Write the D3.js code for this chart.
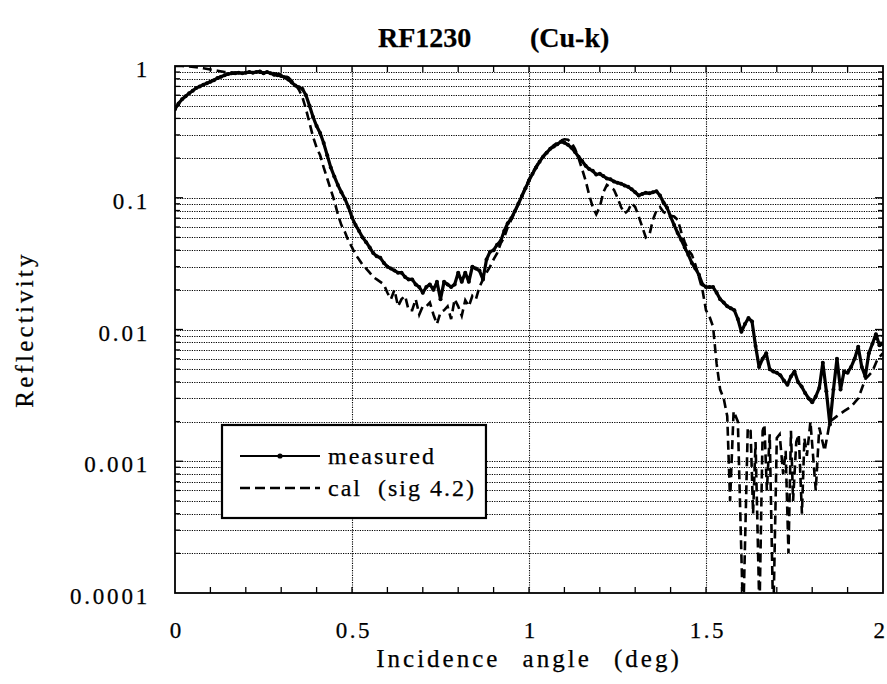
<!DOCTYPE html>
<html>
<head>
<meta charset="utf-8">
<script src="https://cdn.jsdelivr.net/npm/d3@7"></script>
<style>
  body { margin: 0; background: #fff; }
  svg { display: block; }
  text { font-family: "Liberation Serif", "Times New Roman", serif; fill: #000; stroke: #000; stroke-width: 0.25px; }
</style>
</head>
<body>
<svg id="chart" width="887" height="684"></svg>
<script>
// ---- data ----
const titleParts = ["RF1230", "(Cu-k)"];
const xTitle = "Incidence angle (deg)";
const yTitle = "Reflectivity";
const angleTicks = [0, 0.5, 1, 1.5, 2];
const angleTickLabels = ["0", "0.5", "1", "1.5", "2"];
const reflTicks = [1, 0.1, 0.01, 0.001, 0.0001];
const reflTickLabels = ["1", "0.1", "0.01", "0.001", "0.0001"];
const seriesNames = ["measured", "cal  (sig 4.2)"];

// measured reflectivity
const measuredAngle = [
  0.00,0.01,0.02,0.03,0.04,0.05,0.06,0.07,0.08,0.09,0.10,0.11,0.12,0.13,0.14,0.15,0.16,0.17,0.18,0.19,
  0.20,0.21,0.22,0.23,0.24,0.25,0.26,0.27,0.28,0.29,0.30,0.31,0.32,0.33,0.34,0.35,0.36,0.37,0.38,0.39,
  0.40,0.41,0.42,0.43,0.44,0.45,0.46,0.47,0.48,0.49,0.50,0.51,0.52,0.53,0.54,0.55,0.56,0.57,0.58,0.59,
  0.60,0.61,0.62,0.63,0.64,0.65,0.66,0.67,0.68,0.69,0.70,0.71,0.72,0.73,0.74,0.75,0.76,0.77,0.78,0.79,
  0.80,0.81,0.82,0.83,0.84,0.85,0.86,0.87,0.88,0.89,0.90,0.91,0.92,0.93,0.94,0.95,0.96,0.97,0.98,0.99,
  1.00,1.01,1.02,1.03,1.04,1.05,1.06,1.07,1.08,1.09,1.10,1.11,1.12,1.13,1.14,1.15,1.16,1.17,1.18,1.19,
  1.20,1.21,1.22,1.23,1.24,1.25,1.26,1.27,1.28,1.29,1.30,1.31,1.32,1.33,1.34,1.35,1.36,1.37,1.38,1.39,
  1.40,1.41,1.42,1.43,1.44,1.45,1.46,1.47,1.48,1.49,1.50,1.51,1.52,1.53,1.54,1.55,1.56,1.57,1.58,1.59,
  1.60,1.61,1.62,1.63,1.64,1.65,1.66,1.67,1.68,1.69,1.70,1.71,1.72,1.73,1.74,1.75,1.76,1.77,1.78,1.79,
  1.80,1.81,1.82,1.83,1.84,1.85,1.86,1.87,1.88,1.89,1.90,1.91,1.92,1.93,1.94,1.95,1.96,1.97,1.98,1.99,
  2.00
];
const measuredR = [
  0.47,0.52,0.56,0.59,0.62,0.65,0.68,0.70,0.72,0.74,0.76,0.78,0.81,0.83,0.85,0.87,0.88,0.88,0.89,0.88,
  0.89,0.90,0.89,0.90,0.91,0.88,0.90,0.88,0.86,0.85,0.84,0.82,0.79,0.75,0.71,0.69,0.67,0.60,0.50,0.41,
  0.35,0.31,0.26,0.21,0.17,0.145,0.125,0.110,0.098,0.085,0.071,0.062,0.056,0.050,0.046,0.042,0.038,0.036,0.035,0.032,
  0.030,0.029,0.028,0.027,0.027,0.025,0.024,0.024,0.022,0.021,0.019,0.021,0.022,0.020,0.023,0.017,0.023,0.022,0.021,0.022,
  0.027,0.023,0.027,0.023,0.030,0.029,0.028,0.024,0.034,0.039,0.040,0.044,0.047,0.056,0.064,0.070,0.079,0.090,0.103,0.118,
  0.135,0.152,0.170,0.188,0.205,0.220,0.235,0.245,0.255,0.266,0.262,0.252,0.240,0.222,0.205,0.190,0.175,0.165,0.160,0.150,
  0.152,0.146,0.140,0.138,0.133,0.130,0.128,0.124,0.121,0.116,0.110,0.104,0.107,0.109,0.108,0.110,0.112,0.104,0.092,0.084,
  0.072,0.062,0.054,0.048,0.042,0.037,0.032,0.029,0.026,0.022,0.021,0.021,0.021,0.019,0.017,0.016,0.015,0.0145,0.014,0.012,
  0.0096,0.011,0.0122,0.0115,0.0075,0.0052,0.0060,0.0066,0.0050,0.0048,0.0047,0.0045,0.0041,0.0038,0.0044,0.0048,0.0040,0.0037,0.0033,0.0030,
  0.0028,0.0031,0.0036,0.0056,0.0034,0.0019,0.0035,0.0060,0.0035,0.0048,0.0047,0.0052,0.0060,0.0074,0.0052,0.0044,0.0066,0.0078,0.0092,0.0076,
  0.0078
];

// calculated reflectivity (roughness sigma 4.2)
const calAngle = [
  0.00,0.02,0.04,0.06,0.08,0.10,0.12,0.14,0.16,0.18,0.20,0.22,0.24,0.26,0.28,0.30,0.32,0.33,0.34,0.35,
  0.36,0.37,0.38,0.39,0.40,0.41,0.42,0.43,0.44,0.45,0.46,0.47,0.48,0.49,0.50,0.51,0.52,0.53,0.54,0.55,
  0.56,0.57,0.58,0.59,0.60,0.61,0.62,0.63,0.64,0.65,0.66,0.67,0.68,0.69,0.70,0.71,0.72,0.73,0.74,0.75,
  0.76,0.77,0.78,0.79,0.80,0.81,0.82,0.83,0.84,0.85,0.86,0.87,0.88,0.89,0.90,0.91,0.92,0.93,0.94,0.95,
  0.96,0.97,0.98,0.99,1.00,1.01,1.02,1.03,1.04,1.05,1.06,1.07,1.08,1.09,1.10,1.11,1.12,1.13,1.14,1.15,
  1.16,1.17,1.18,1.19,1.20,1.21,1.22,1.23,1.24,1.25,1.26,1.27,1.28,1.29,1.30,1.31,1.32,1.33,1.34,1.35,
  1.36,1.37,1.38,1.39,1.40,1.41,1.42,1.43,1.44,1.45,1.46,1.47,1.48,1.49,1.50,1.51,1.52,1.53,1.54,1.55,
  1.56,1.568,1.578,1.59,1.605,1.618,1.626,1.633,1.64,1.651,1.66,1.665,1.672,1.68,1.69,1.70,1.708,1.718,1.725,1.733,
  1.74,1.746,1.755,1.762,1.771,1.778,1.785,1.795,1.81,1.82,1.835,1.85,1.87,1.89,1.91,1.93,1.95,1.97,1.985,2.00
];
const calR = [
  1.00,1.00,0.99,0.98,0.96,0.94,0.92,0.90,0.89,0.89,0.89,0.89,0.89,0.89,0.88,0.86,0.82,0.77,0.72,0.66,
  0.58,0.47,0.37,0.29,0.24,0.21,0.17,0.14,0.115,0.095,0.075,0.062,0.055,0.047,0.042,0.037,0.034,0.031,0.029,0.027,
  0.025,0.024,0.023,0.022,0.019,0.017,0.020,0.015,0.017,0.018,0.014,0.014,0.017,0.013,0.015,0.015,0.016,0.013,0.011,0.0135,
  0.014,0.015,0.012,0.017,0.015,0.0127,0.0167,0.015,0.018,0.017,0.021,0.024,0.027,0.030,0.034,0.038,0.045,0.050,0.060,0.068,
  0.078,0.090,0.104,0.120,0.138,0.155,0.173,0.190,0.207,0.222,0.237,0.250,0.262,0.272,0.278,0.276,0.262,0.235,0.200,0.165,
  0.135,0.105,0.085,0.075,0.085,0.110,0.125,0.120,0.115,0.100,0.085,0.076,0.080,0.091,0.085,0.072,0.060,0.050,0.052,0.068,
  0.080,0.085,0.078,0.075,0.073,0.072,0.068,0.055,0.046,0.040,0.037,0.031,0.025,0.020,0.014,0.0125,0.0105,0.0055,0.0035,0.0030,
  0.0022,0.0005,0.0024,0.0020,0.00006,0.0018,0.0017,0.0004,0.0014,0.00007,0.0017,0.0019,0.0006,0.0016,0.00006,0.0015,0.0016,0.0008,0.0012,0.0002,
  0.0017,0.0005,0.0014,0.0016,0.0004,0.0015,0.0011,0.0020,0.0006,0.0018,0.0012,0.0020,0.0022,0.0024,0.0026,0.0030,0.0042,0.0048,0.0060,0.0066
];

// ---- layout ----
const svg = d3.select("#chart");
const plotLeft = 175, plotRight = 883, plotTop = 66, plotBottom = 593;

const x = d3.scaleLinear().domain([0, 2]).range([plotLeft, plotRight]);
const y = d3.scaleLog().domain([1e-4, 1]).range([plotBottom, plotTop]);

const isDecade = v => Math.abs(Math.log10(v) - Math.round(Math.log10(v))) < 1e-9;

// dotted grid: every 1..9 multiple of each decade, plus verticals at the labelled angles
const gridValues = [];
[1e-4, 1e-3, 1e-2, 1e-1].forEach(d => { for (let k = 1; k <= 9; k++) gridValues.push(k * d); });
const innerGrid = gridValues.filter(v => v > 1e-4 && v < 1);

const grid = svg.append("g").attr("stroke", "#000").attr("stroke-width", 1.1)
  .attr("stroke-dasharray", "1.2,1.2");
grid.selectAll("line.h").data(innerGrid).join("line").attr("class", "h")
  .attr("x1", plotLeft).attr("x2", plotRight)
  .attr("y1", d => Math.round(y(d)) + 0.5).attr("y2", d => Math.round(y(d)) + 0.5);
grid.selectAll("line.v").data(angleTicks.filter(v => v > 0 && v < 2)).join("line").attr("class", "v")
  .attr("y1", plotTop).attr("y2", plotBottom)
  .attr("x1", d => Math.round(x(d)) + 0.5).attr("x2", d => Math.round(x(d)) + 0.5);

// inward ticks on all four sides
const minorAngles = d3.range(1, 20).map(i => i / 10);
const ticks = svg.append("g").attr("stroke", "#000").attr("stroke-width", 1.3);
ticks.selectAll("line.b").data(minorAngles).join("line").attr("class", "b")
  .attr("x1", d => x(d)).attr("x2", d => x(d)).attr("y1", plotBottom).attr("y2", plotBottom - 6);
ticks.selectAll("line.t").data(minorAngles).join("line").attr("class", "t")
  .attr("x1", d => x(d)).attr("x2", d => x(d)).attr("y1", plotTop).attr("y2", plotTop + 6);
ticks.selectAll("line.l").data(innerGrid).join("line").attr("class", "l")
  .attr("x1", plotLeft).attr("x2", d => plotLeft + (isDecade(d) ? 8 : 5))
  .attr("y1", d => y(d)).attr("y2", d => y(d));
ticks.selectAll("line.r").data(innerGrid).join("line").attr("class", "r")
  .attr("x1", plotRight).attr("x2", d => plotRight - (isDecade(d) ? 8 : 5))
  .attr("y1", d => y(d)).attr("y2", d => y(d));

// tick labels
const xAxis = d3.axisBottom(x).tickValues(angleTicks)
  .tickFormat((d, i) => angleTickLabels[i]).tickSize(0).tickPadding(0);
const gx = svg.append("g").attr("transform", `translate(0,${plotBottom})`).call(xAxis);
gx.select(".domain").remove();
gx.attr("font-family", null).attr("font-size", null);
gx.selectAll("text").attr("dy", null).attr("y", 45)
  .attr("dx", (d, i) => i === angleTicks.length - 1 ? "-3px" : "1.25px")
  .style("font-size", "23px").style("letter-spacing", "2.5px");

const yAxis = d3.axisLeft(y).tickValues(reflTicks)
  .tickFormat((d, i) => reflTickLabels[i]).tickSize(0).tickPadding(0);
const gy = svg.append("g").attr("transform", `translate(${plotLeft},0)`).call(yAxis);
gy.select(".domain").remove();
gy.attr("font-family", null).attr("font-size", null);
gy.selectAll("text").attr("dy", null).attr("x", -25).attr("y", 10.5)
  .style("font-size", "23px").style("letter-spacing", "2.8px");

// series, clipped to the plot frame
svg.append("clipPath").attr("id", "plotClip")
  .append("rect").attr("x", plotLeft).attr("y", plotTop)
  .attr("width", plotRight - plotLeft).attr("height", plotBottom - plotTop);
const plot = svg.append("g").attr("clip-path", "url(#plotClip)");

const line = d3.line().x(d => x(d[0])).y(d => y(d[1]));
const measured = measuredAngle.map((a, i) => [a, measuredR[i]]);
const cal = calAngle.map((a, i) => [a, calR[i]]);

plot.append("path").datum(cal).attr("d", line)
  .attr("fill", "none").attr("stroke", "#000").attr("stroke-width", 2.6)
  .attr("stroke-dasharray", "9,5");
plot.append("path").datum(measured).attr("d", line)
  .attr("fill", "none").attr("stroke", "#000").attr("stroke-width", 3.2)
  .attr("stroke-linejoin", "round");
plot.selectAll("circle").data(measured).join("circle")
  .attr("cx", d => x(d[0])).attr("cy", d => y(d[1])).attr("r", 2).attr("fill", "#000");

// plot frame
svg.append("rect").attr("x", plotLeft).attr("y", plotTop)
  .attr("width", plotRight - plotLeft).attr("height", plotBottom - plotTop)
  .attr("fill", "none").attr("stroke", "#000").attr("stroke-width", 1.8);

// legend: box sized to its entries
const lg = svg.append("g");
const lgBox = lg.append("rect").attr("x", 222).attr("y", 425).attr("height", 93)
  .attr("fill", "#fff").attr("stroke", "#000").attr("stroke-width", 2.2);
lg.append("line").attr("x1", 240).attr("x2", 320).attr("y1", 456).attr("y2", 456)
  .attr("stroke", "#000").attr("stroke-width", 2);
lg.append("circle").attr("cx", 280).attr("cy", 456).attr("r", 2.6).attr("fill", "#000");
lg.append("line").attr("x1", 240).attr("x2", 320).attr("y1", 488).attr("y2", 488)
  .attr("stroke", "#000").attr("stroke-width", 2.6).attr("stroke-dasharray", "10,5");
const lgText = lg.selectAll("text").data(seriesNames).join("text")
  .attr("x", 328).attr("y", (d, i) => 464 + i * 32)
  .style("font-size", "24px").style("letter-spacing", "2px").style("white-space", "pre")
  .text(d => d);
const lgTextWidth = d3.max(lgText.nodes(), n => n.getComputedTextLength());
lgBox.attr("width", 328 - 222 + lgTextWidth + 10);

// titles
svg.append("text").attr("x", 378).attr("y", 47)
  .style("font-size", "28px").style("font-weight", "bold")
  .text(titleParts[0]);
svg.append("text").attr("x", 530).attr("y", 47)
  .style("font-size", "28px").style("font-weight", "bold")
  .text(titleParts[1]);

svg.append("text").attr("x", (plotLeft + plotRight) / 2).attr("y", 667).attr("text-anchor", "middle")
  .style("font-size", "25px").style("letter-spacing", "3px").style("word-spacing", "13px")
  .text(xTitle);

svg.append("text").attr("transform", `translate(33,${(plotTop + plotBottom) / 2}) rotate(-90)`)
  .attr("text-anchor", "middle")
  .style("font-size", "25px").style("letter-spacing", "3.2px")
  .text(yTitle);
</script>
</body>
</html>
